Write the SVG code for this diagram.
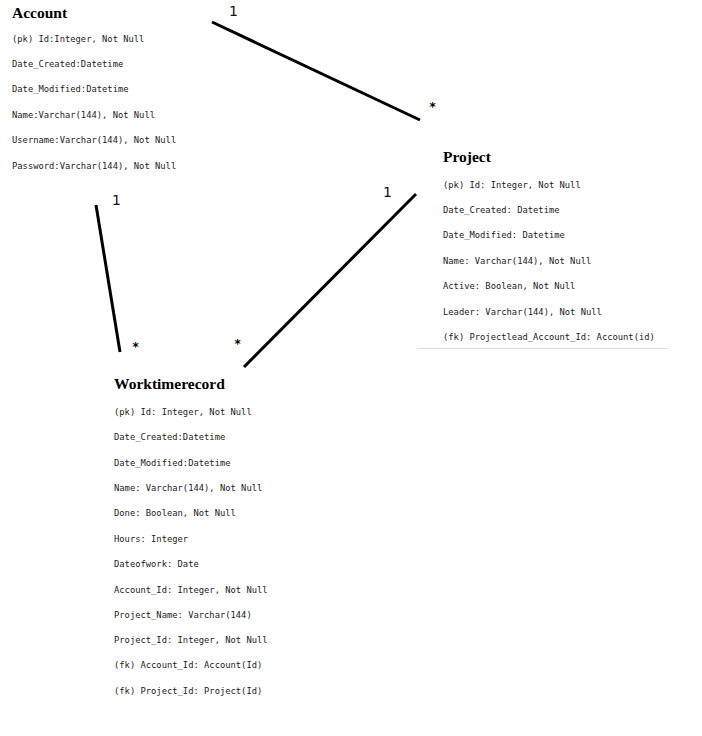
<svg xmlns="http://www.w3.org/2000/svg" width="702" height="736" viewBox="0 0 702 736">
<style>
.h{font-family:"Liberation Serif","Times New Roman",serif;font-weight:bold;font-size:15.5px;fill:#000}
.f{font-family:"DejaVu Sans Mono","Liberation Mono",monospace;font-size:8.8px;fill:#222}
.c{stroke:#000;stroke-width:3;fill:none}
.m{font-family:"DejaVu Sans","Liberation Sans",sans-serif;font-size:14px;fill:#111}
.s{font-family:"DejaVu Sans Mono","Liberation Mono",monospace;font-size:12px;font-weight:bold;fill:#000}
</style>
<rect width="702" height="736" fill="#fff"/>
<g id="connectors">
<line class="c" x1="212" y1="22" x2="420" y2="120"/>
<line class="c" x1="96" y1="205" x2="120" y2="352"/>
<line class="c" x1="416" y1="194" x2="244" y2="367"/>
<text class="m" x="229" y="16">1</text>
<text class="s" x="429" y="111">*</text>
<text class="m" x="112" y="205">1</text>
<text class="s" x="132" y="351">*</text>
<text class="m" x="383" y="197">1</text>
<text class="s" x="234" y="348">*</text>
</g>
<g id="account">
<text class="h" x="12" y="18">Account</text>
<text class="f" x="12" y="42">(pk) Id:Integer, Not Null</text>
<text class="f" x="12" y="67">Date_Created:Datetime</text>
<text class="f" x="12" y="92">Date_Modified:Datetime</text>
<text class="f" x="12" y="118">Name:Varchar(144), Not Null</text>
<text class="f" x="12" y="143">Username:Varchar(144), Not Null</text>
<text class="f" x="12" y="169">Password:Varchar(144), Not Null</text>
</g>
<g id="project">
<text class="h" x="443" y="162">Project</text>
<text class="f" x="443" y="188">(pk) Id: Integer, Not Null</text>
<text class="f" x="443" y="213">Date_Created: Datetime</text>
<text class="f" x="443" y="238">Date_Modified: Datetime</text>
<text class="f" x="443" y="264">Name: Varchar(144), Not Null</text>
<text class="f" x="443" y="289">Active: Boolean, Not Null</text>
<text class="f" x="443" y="315">Leader: Varchar(144), Not Null</text>
<text class="f" x="443" y="340">(fk) Projectlead_Account_Id: Account(id)</text>
<line x1="417" y1="348.5" x2="668" y2="348.5" stroke="#ddd" stroke-width="1"/>
</g>
<g id="worktimerecord">
<text class="h" x="114" y="389">Worktimerecord</text>
<text class="f" x="114" y="415">(pk) Id: Integer, Not Null</text>
<text class="f" x="114" y="440">Date_Created:Datetime</text>
<text class="f" x="114" y="466">Date_Modified:Datetime</text>
<text class="f" x="114" y="491">Name: Varchar(144), Not Null</text>
<text class="f" x="114" y="516">Done: Boolean, Not Null</text>
<text class="f" x="114" y="542">Hours: Integer</text>
<text class="f" x="114" y="567">Dateofwork: Date</text>
<text class="f" x="114" y="593">Account_Id: Integer, Not Null</text>
<text class="f" x="114" y="618">Project_Name: Varchar(144)</text>
<text class="f" x="114" y="643">Project_Id: Integer, Not Null</text>
<text class="f" x="114" y="668">(fk) Account_Id: Account(Id)</text>
<text class="f" x="114" y="694">(fk) Project_Id: Project(Id)</text>
</g>
</svg>
